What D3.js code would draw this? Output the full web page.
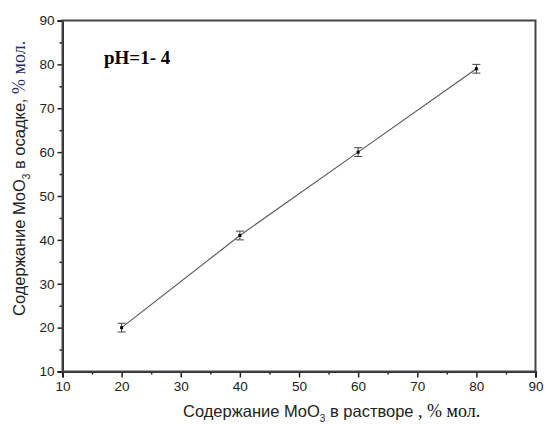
<!DOCTYPE html>
<html>
<head>
<meta charset="utf-8">
<script src="https://cdn.jsdelivr.net/npm/d3@7"></script>
<style>
  body { margin: 0; background: #fff; }
  svg { display: block; }
</style>
</head>
<body>
<div id="chart"></div>
<script>
const xValues = [20, 40, 60, 80];
const yValues = [20, 41, 60, 79];
const yErrors = [1, 1, 1, 1];
const xTicks = [10, 20, 30, 40, 50, 60, 70, 80, 90];
const yTicks = [10, 20, 30, 40, 50, 60, 70, 80, 90];
const minorTicks = [15, 25, 35, 45, 55, 65, 75, 85];

const width = 545;
const height = 425;
const margin = { top: 20.5, right: 9.5, bottom: 53.5, left: 62.5 };
const sans = "'Liberation Sans', Arial, sans-serif";
const serif = "'Liberation Serif', 'Times New Roman', serif";

const svg = d3.select("#chart")
  .append("svg")
  .attr("width", width)
  .attr("height", height);

const x = d3.scaleLinear().domain([10, 90]).range([margin.left, width - margin.right]);
const y = d3.scaleLinear().domain([10, 90]).range([height - margin.bottom, margin.top]);

const axisColor = "#222";

// major and minor ticks
svg.append("g")
  .attr("transform", `translate(0,${height - margin.bottom})`)
  .call(d3.axisBottom(x).tickValues(xTicks).tickSize(6).tickPadding(4).tickFormat(d3.format("d")));
svg.append("g")
  .attr("transform", `translate(0,${height - margin.bottom})`)
  .call(d3.axisBottom(x).tickValues(minorTicks).tickSize(3).tickFormat(""))
  .call(g => g.select(".domain").remove());

svg.append("g")
  .attr("transform", `translate(${margin.left},0)`)
  .call(d3.axisLeft(y).tickValues(yTicks).tickSize(5).tickPadding(3).tickFormat(d3.format("d")));
svg.append("g")
  .attr("transform", `translate(${margin.left},0)`)
  .call(d3.axisLeft(y).tickValues(minorTicks).tickSize(3).tickFormat(""))
  .call(g => g.select(".domain").remove());

svg.selectAll(".tick line").attr("stroke", axisColor).attr("stroke-width", 1.5);
svg.selectAll(".domain").attr("stroke", axisColor).attr("stroke-width", 2);
svg.selectAll(".tick text")
  .attr("fill", "#222")
  .style("font-family", sans)
  .style("font-size", "13.5px");

// frame: top and right
svg.append("rect")
  .attr("x", x(10))
  .attr("y", y(90))
  .attr("width", x(90) - x(10))
  .attr("height", y(10) - y(90))
  .attr("fill", "none")
  .attr("stroke", "#444")
  .attr("stroke-width", 2);

// line
const line = d3.line().x((d, i) => x(xValues[i])).y(d => y(d));
svg.append("path")
  .datum(yValues)
  .attr("d", line)
  .attr("fill", "none")
  .attr("stroke", "#555")
  .attr("stroke-width", 1.1);

// error bars
const err = svg.append("g").attr("stroke", "#444").attr("stroke-width", 1);
yValues.forEach((v, i) => {
  const cx = x(xValues[i]);
  err.append("line").attr("x1", cx).attr("x2", cx).attr("y1", y(v - yErrors[i])).attr("y2", y(v + yErrors[i]));
  err.append("line").attr("x1", cx - 4).attr("x2", cx + 4).attr("y1", y(v - yErrors[i])).attr("y2", y(v - yErrors[i]));
  err.append("line").attr("x1", cx - 4).attr("x2", cx + 4).attr("y1", y(v + yErrors[i])).attr("y2", y(v + yErrors[i]));
});

svg.append("g")
  .selectAll("rect")
  .data(yValues)
  .join("rect")
  .attr("x", (d, i) => x(xValues[i]) - 1.5)
  .attr("y", d => y(d) - 1.5)
  .attr("width", 3)
  .attr("height", 3)
  .attr("fill", "#000");

// pH label
svg.append("text")
  .attr("x", 104)
  .attr("y", 64)
  .style("font-family", serif)
  .style("font-weight", "bold")
  .style("font-size", "19px")
  .attr("fill", "#000")
  .text("pH=1- 4");

// x title
const xt = svg.append("text")
  .attr("x", 183)
  .attr("y", 417)
  .attr("fill", "#222")
  .style("font-family", sans)
  .style("font-size", "16.5px");
xt.append("tspan").text("Содержание MoO");
xt.append("tspan").attr("dy", 5).style("font-size", "10px").text("3");
xt.append("tspan").attr("dy", -5).text(" в растворе");
xt.append("tspan")
  .style("font-family", serif)
  .style("font-size", "18px")
  .attr("fill", "#111")
  .text(" , % мол.");

// y title
const yt = svg.append("text")
  .attr("transform", "translate(25,316) rotate(-90)")
  .attr("fill", "#222")
  .style("font-family", sans)
  .style("font-size", "16.5px");
yt.append("tspan").text("Содержание MoO");
yt.append("tspan").attr("dy", 5).style("font-size", "10px").text("3");
yt.append("tspan").attr("dy", -5).text(" в осадке");
yt.append("tspan")
  .style("font-family", serif)
  .style("font-size", "18px")
  .attr("fill", "#8a4a1a")
  .text(", ");
yt.append("tspan")
  .style("font-family", serif)
  .style("font-size", "18px")
  .attr("fill", "#1f2a66")
  .text("% мол.");
</script>
</body>
</html>
